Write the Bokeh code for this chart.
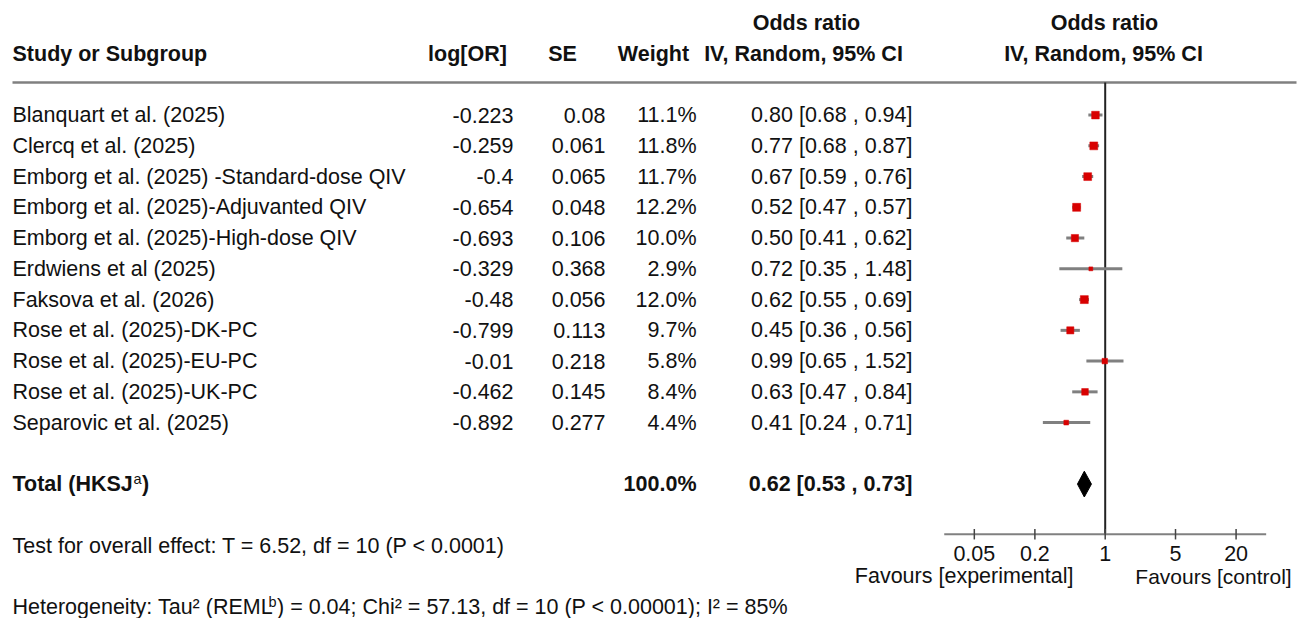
import math

from bokeh.core.properties import value
from bokeh.embed import file_html
from bokeh.models import ColumnDataSource, LogScale, Range1d
from bokeh.plotting import figure
from bokeh.resources import INLINE

# ---- study-level data -------------------------------------------------------
studies = [
    "Blanquart et al. (2025)",
    "Clercq et al. (2025)",
    "Emborg et al. (2025) -Standard-dose QIV",
    "Emborg et al. (2025)-Adjuvanted QIV",
    "Emborg et al. (2025)-High-dose QIV",
    "Erdwiens et al (2025)",
    "Faksova et al. (2026)",
    "Rose et al. (2025)-DK-PC",
    "Rose et al. (2025)-EU-PC",
    "Rose et al. (2025)-UK-PC",
    "Separovic et al. (2025)",
]
log_or = [-0.223, -0.259, -0.4, -0.654, -0.693, -0.329, -0.48, -0.799, -0.01, -0.462, -0.892]
std_err = [0.08, 0.061, 0.065, 0.048, 0.106, 0.368, 0.056, 0.113, 0.218, 0.145, 0.277]
weight = [11.1, 11.8, 11.7, 12.2, 10.0, 2.9, 12.0, 9.7, 5.8, 8.4, 4.4]
odds_ratio = [0.80, 0.77, 0.67, 0.52, 0.50, 0.72, 0.62, 0.45, 0.99, 0.63, 0.41]
ci_lower = [0.68, 0.68, 0.59, 0.47, 0.41, 0.35, 0.55, 0.36, 0.65, 0.47, 0.24]
ci_upper = [0.94, 0.87, 0.76, 0.57, 0.62, 1.48, 0.69, 0.56, 1.52, 0.84, 0.71]

# ---- pooled estimate --------------------------------------------------------
total_weight = 100.0
total_or = 0.62
total_lower = 0.53
total_upper = 0.73

# ---- axis -------------------------------------------------------------------
axis_ticks = [0.05, 0.2, 1, 5, 20]
axis_tick_labels = ["0.05", "0.2", "1", "5", "20"]
axis_limits = [10 ** -1.6, 10 ** 1.6]

# ---- layout constants -------------------------------------------------------
W, H = 1299, 618
X_ONE = 1104.7          # page x of OR = 1
PX_PER_DECADE = 100.6   # page pixels per factor of ten
ROW0_Y = 114.6          # page y of the first study row
ROW_H = 30.75           # row pitch in pixels

FONT = value("Liberation Sans")
FS = "21.5px"
RED = "#d80000"
GREY = "#808080"

p = figure(
    width=W, height=H,
    x_range=Range1d(0, W),
    y_range=Range1d((H - ROW0_Y) / ROW_H, -ROW0_Y / ROW_H),
    output_backend="svg", toolbar_location=None,
    x_axis_location=None, y_axis_location=None,
    min_border=0,
)
p.grid.visible = False
p.outline_line_color = None
p.background_fill_color = "white"
p.border_fill_color = "white"

# log-scaled odds-ratio range laid over the same canvas
p.extra_x_ranges = {"or": Range1d(10 ** ((0 - X_ONE) / PX_PER_DECADE),
                                  10 ** ((W - X_ONE) / PX_PER_DECADE))}
p.extra_x_scales = {"or": LogScale()}

n = len(studies)
rows = list(range(n))
ROW_TOTAL = n + 1
ROW_TEST = n + 3
ROW_HET = n + 5
ROW_AXIS = 13.63


def txt(x, y, t, align="left", bold=False, size=FS, **kw):
    p.text(x=x, y=y, text=t, text_font=FONT, text_font_size=size,
           text_align=align, text_baseline="middle",
           text_font_style="bold" if bold else "normal",
           text_color="#111111", **kw)


# ---- header -----------------------------------------------------------------
txt([12], [-2], ["Study or Subgroup"], bold=True)
txt([467], [-2], ["log[OR]"], align="center", bold=True)
txt([562], [-2], ["SE"], align="center", bold=True)
txt([653], [-2], ["Weight"], align="center", bold=True)
txt([806, 1104], [-3, -3], ["Odds ratio", "Odds ratio"], align="center", bold=True)
txt([803, 1103], [-2, -2], ["IV, Random, 95% CI", "IV, Random, 95% CI"],
    align="center", bold=True)

# rule under the header
p.segment(x0=[12], x1=[1296], y0=[-1.06], y1=[-1.06], line_color=GREY, line_width=2.5)

# ---- table body -------------------------------------------------------------
src = ColumnDataSource(dict(
    row=rows,
    study=studies,
    log_or=[str(v) for v in log_or],
    se=[str(v) for v in std_err],
    weight=[f"{w:.1f}%" for w in weight],
    ci=[f"{o:.2f} [{lo:.2f} , {hi:.2f}]" for o, lo, hi in zip(odds_ratio, ci_lower, ci_upper)],
    est=odds_ratio, lo=ci_lower, hi=ci_upper,
    size=[2.3 * math.sqrt(w) for w in weight],
))

for col, x, align in [("study", 12, "left"), ("log_or", 513, "right"),
                      ("se", 605, "right"), ("weight", 696, "right"),
                      ("ci", 912, "right")]:
    p.text(x=x, y="row", text=col, source=src, text_font=FONT, text_font_size=FS,
           text_align=align, text_baseline="middle", text_color="#111111")

# ---- total row --------------------------------------------------------------
txt([12], [ROW_TOTAL], ["Total (HKSJ"], bold=True)
txt([133], [ROW_TOTAL - 0.17], ["a"], size="14.5px")
txt([141.5], [ROW_TOTAL], [")"], bold=True)
txt([696], [ROW_TOTAL], [f"{total_weight:.1f}%"], align="right", bold=True)
txt([912], [ROW_TOTAL], [f"{total_or:.2f} [{total_lower:.2f} , {total_upper:.2f}]"],
    align="right", bold=True)

# ---- footer statistics ------------------------------------------------------
txt([12], [ROW_TEST], ["Test for overall effect: T = 6.52, df = 10 (P < 0.0001)"])
txt([12], [ROW_HET], ["Heterogeneity: Tau² (REML"])
txt([268], [ROW_HET - 0.17], ["b"], size="14.5px")
txt([276.5], [ROW_HET], [") = 0.04; Chi² = 57.13, df = 10 (P < 0.00001); I² = 85%"])

# ---- forest plot ------------------------------------------------------------
# line of no effect
p.segment(x0=[1], x1=[1], y0=[-1.06], y1=[ROW_AXIS], x_range_name="or",
          line_color="#222222", line_width=2)

# confidence intervals and point estimates
p.segment(x0="lo", x1="hi", y0="row", y1="row", source=src, x_range_name="or",
          line_color=GREY, line_width=3)
p.scatter(x="est", y="row", size="size", marker="square", source=src,
          x_range_name="or", fill_color=RED, line_color=RED, line_width=0.5)

# pooled diamond
p.patch(x=[total_lower, total_or, total_upper, total_or],
        y=[ROW_TOTAL, ROW_TOTAL - 0.42, ROW_TOTAL, ROW_TOTAL + 0.42],
        x_range_name="or", fill_color="black", line_color="black")

# horizontal OR axis
p.segment(x0=[axis_limits[0]], x1=[axis_limits[1]], y0=[ROW_AXIS], y1=[ROW_AXIS],
          x_range_name="or", line_color=GREY, line_width=2)
p.segment(x0=axis_ticks, x1=axis_ticks,
          y0=[ROW_AXIS - 0.17] * len(axis_ticks), y1=[ROW_AXIS + 0.17] * len(axis_ticks),
          x_range_name="or", line_color="#444444", line_width=1.5)
p.text(x=axis_ticks, y=[ROW_AXIS + 0.62] * len(axis_ticks), text=axis_tick_labels,
       x_range_name="or", text_font=FONT, text_font_size=FS, text_align="center",
       text_baseline="middle", text_color="#111111")

txt([1073], [ROW_AXIS + 1.37], ["Favours [experimental]"], align="right")
txt([1213], [ROW_AXIS + 1.37], ["Favours [control]"], align="center", size="21px")

open("out.html", "w").write(file_html(p, INLINE))
